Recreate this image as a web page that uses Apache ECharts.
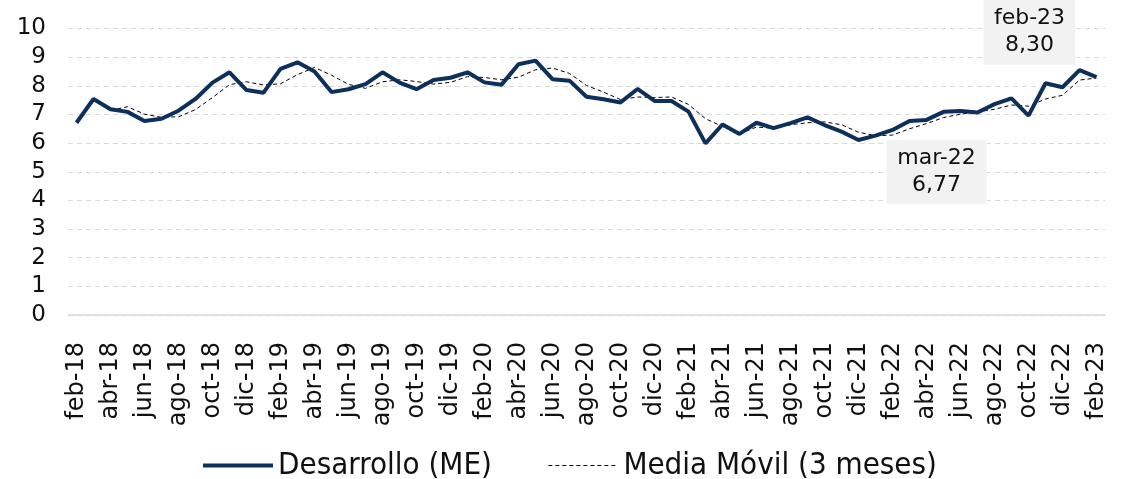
<!DOCTYPE html>
<html>
<head>
<meta charset="utf-8">
<script src="https://cdn.jsdelivr.net/npm/echarts@6/dist/echarts.min.js"></script>
<style>
  html, body { margin: 0; padding: 0; background: #fff; }
  #chart { width: 1127px; height: 479px; }
</style>
</head>
<body>
<div id="chart"></div>
<script>
// meses feb-18 .. feb-23
let meses = [
    'feb-18','mar-18','abr-18','may-18','jun-18','jul-18','ago-18','sep-18','oct-18','nov-18','dic-18','ene-19',
    'feb-19','mar-19','abr-19','may-19','jun-19','jul-19','ago-19','sep-19','oct-19','nov-19','dic-19','ene-20',
    'feb-20','mar-20','abr-20','may-20','jun-20','jul-20','ago-20','sep-20','oct-20','nov-20','dic-20','ene-21',
    'feb-21','mar-21','abr-21','may-21','jun-21','jul-21','ago-21','sep-21','oct-21','nov-21','dic-21','ene-22',
    'feb-22','mar-22','abr-22','may-22','jun-22','jul-22','ago-22','sep-22','oct-22','nov-22','dic-22','ene-23',
    'feb-23'
];

// Desarrollo (ME)
let desarrollo = [
    6.71, 7.54, 7.18, 7.09, 6.77, 6.85, 7.13, 7.54, 8.11, 8.47, 7.85, 7.76,
    8.59, 8.82, 8.50, 7.78, 7.88, 8.06, 8.47, 8.11, 7.88, 8.20, 8.28, 8.47,
    8.12, 8.04, 8.75, 8.88, 8.23, 8.18, 7.62, 7.53, 7.42, 7.89, 7.47, 7.47,
    7.10, 5.99, 6.65, 6.32, 6.71, 6.52, 6.70, 6.90, 6.63, 6.40, 6.11, 6.26,
    6.46, 6.77, 6.81, 7.09, 7.12, 7.07, 7.36, 7.56, 6.96, 8.09, 7.95, 8.55,
    8.30
];

// Media Móvil (3 meses), sin valor en los dos primeros meses
let mediaMovil = [
    '-', '-', 7.14, 7.27, 7.01, 6.90, 6.92, 7.17, 7.59, 8.04, 8.14, 8.03,
    8.07, 8.39, 8.64, 8.37, 8.05, 7.91, 8.14, 8.21, 8.15, 8.06, 8.12, 8.32,
    8.29, 8.21, 8.30, 8.56, 8.62, 8.43, 8.01, 7.78, 7.52, 7.61, 7.59, 7.61,
    7.35, 6.85, 6.58, 6.32, 6.56, 6.52, 6.64, 6.71, 6.74, 6.64, 6.38, 6.26,
    6.28, 6.50, 6.68, 6.89, 7.01, 7.09, 7.18, 7.33, 7.29, 7.54, 7.67, 8.20,
    8.27
];

let yTicks = [0, 10, 1]; // min, max, intervalo

// puntos destacados: [índice, desplazamiento caja, tamaño caja]
let destacados = [
    [49, [27, 51], [100, 64]],
    [60, [-67, -45], [92, 65]]
];

let fuente = 'DejaVu Sans';

let markData = destacados.map(function (d) {
    let i = d[0];
    return {
        coord: [meses[i], desarrollo[i]],
        symbolOffset: d[1],
        symbolSize: d[2],
        label: {
            formatter: meses[i] + '\n' + desarrollo[i].toFixed(2).replace('.', ',')
        }
    };
});

let chart = echarts.init(document.getElementById('chart'), null, { renderer: 'canvas' });
chart.setOption({
    animation: false,
    grid: { left: 68, right: 22, top: 28.5, bottom: 164 },
    legend: {
        top: 445,
        left: 196,
        itemWidth: 70,
        itemHeight: 4,
        itemGap: 56,
        itemStyle: { opacity: 0 },
        textStyle: { fontFamily: 'DejaVu Sans Condensed', fontSize: 31, color: '#111' },
        data: [
            { name: 'Desarrollo (ME)', lineStyle: { width: 4 } },
            { name: 'Media Móvil (3 meses)', lineStyle: { width: 1 } }
        ]
    },
    xAxis: {
        type: 'category',
        data: meses,
        boundaryGap: true,
        axisLine: { lineStyle: { color: '#d9d9d9', width: 1.5 } },
        axisTick: { show: false },
        axisLabel: {
            interval: 1,
            rotate: 90,
            margin: 27,
            fontFamily: fuente,
            fontSize: 24,
            color: '#111'
        }
    },
    yAxis: {
        type: 'value',
        min: yTicks[0],
        max: yTicks[1],
        interval: yTicks[2],
        axisLine: { show: false },
        axisTick: { show: false },
        axisLabel: { margin: 22, fontFamily: fuente, fontSize: 23, color: '#111' },
        splitLine: { lineStyle: { color: '#d9d9d9', type: [5, 4], width: 1 } }
    },
    series: [{
        name: 'Desarrollo (ME)',
        type: 'line',
        data: desarrollo,
        symbol: 'none',
        z: 3,
        lineStyle: { color: '#0d2f5c', width: 4 },
        itemStyle: { color: '#0d2f5c' },
        markPoint: {
            symbol: 'rect',
            itemStyle: { color: '#f2f2f2' },
            label: {
                show: true,
                position: 'inside',
                fontFamily: fuente,
                fontSize: 22,
                lineHeight: 27,
                color: '#111'
            },
            data: markData
        }
    }, {
        name: 'Media Móvil (3 meses)',
        type: 'line',
        data: mediaMovil,
        symbol: 'none',
        z: 2,
        lineStyle: { color: '#000', width: 1, type: [4, 3] },
        itemStyle: { color: '#000' }
    }]
});
</script>
</body>
</html>
